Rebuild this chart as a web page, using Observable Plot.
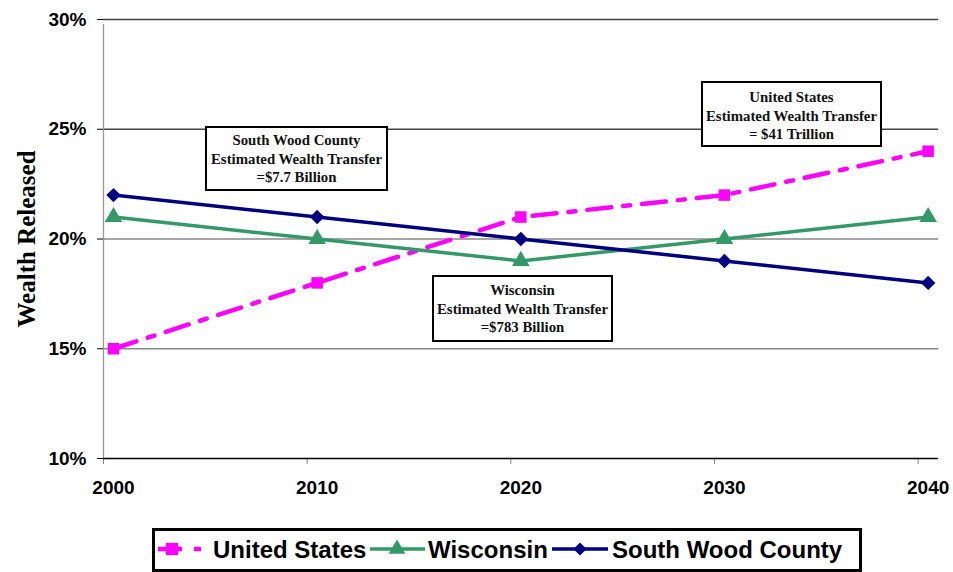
<!DOCTYPE html>
<html>
<head>
<meta charset="utf-8">
<script src="https://cdn.jsdelivr.net/npm/d3@7"></script>
<script src="https://cdn.jsdelivr.net/npm/@observablehq/plot@0.6"></script>
<style>
  html, body { margin: 0; padding: 0; background: #fff; }
  #wrap { position: relative; width: 953px; height: 572px; overflow: hidden; }
  .note {
    position: absolute; box-sizing: border-box; border: 2px solid #000; background: #fff;
    font-family: "Liberation Serif", "Times New Roman", serif; font-weight: bold;
    font-size: 14.8px; line-height: 18.5px; text-align: center; color: #111;
  }
  #legend { position: absolute; left: 152px; top: 528px; }
</style>
</head>
<body>
<div id="wrap"></div>
<script>
const years = [2000, 2010, 2020, 2030, 2040];
const unitedStates = [15, 18, 21, 22, 24];
const wisconsin = [21, 20, 19, 20, 21];
const southWood = [22, 21, 20, 19, 18];
const yTicks = [10, 15, 20, 25, 30];
const seriesNames = ["United States", "Wisconsin", "South Wood County"];
const notes = [
  ["South Wood County", "Estimated Wealth Transfer", "=$7.7 Billion"],
  ["Wisconsin", "Estimated Wealth Transfer", "=$783 Billion"],
  ["United States", "Estimated Wealth Transfer", "= $41 Trillion"]
];

const toRows = vals => years.map((year, i) => ({year, value: vals[i]}));
const us = toRows(unitedStates), wi = toRows(wisconsin), sw = toRows(southWood);

const MAG = "#ff00ff", GRN = "#339966", NAV = "#000080";
const DX = 10;

const chart = Plot.plot({
  width: 953,
  height: 505,
  marginLeft: 103,
  marginRight: 15,
  marginTop: 19,
  marginBottom: 47,
  style: {fontFamily: "'Liberation Sans', Arial, sans-serif", background: "#fff", overflow: "visible"},
  x: {domain: [2000, 2041]},
  y: {domain: [10, 30]},
  marks: [
    Plot.ruleY(yTicks.filter(d => d > 10), {y: d => d, stroke: d => d >= 25 ? "#444" : "#888", strokeWidth: 1.3}),
    Plot.ruleX([2000], {stroke: "#999", strokeWidth: 1.3, y1: 10, y2: 30, insetBottom: -5}),
    Plot.axisY({ticks: yTicks, tickFormat: d => d + "%", tickSize: 6, tickPadding: 11,
      fontSize: 19, fontWeight: "bold", label: null, stroke: "#000", fill: "#000"}),
    Plot.axisX({ticks: years, tickSize: 6, tickFormat: () => "", label: null, stroke: "#888"}),
    Plot.axisX({ticks: years, tickFormat: d => String(d), tickSize: 0, tickPadding: 22, dx: DX,
      fontSize: 19, fontWeight: "bold", label: null, fill: "#000"}),
    Plot.ruleY([10], {stroke: "#000", strokeWidth: 1.5}),
    Plot.text(["Wealth Released"], {frameAnchor: "left", textAnchor: "middle", rotate: -90, dx: -77,
      fontFamily: "'Liberation Serif', 'Times New Roman', serif", fontWeight: "bold", fontSize: 25, fill: "#000"}),
    Plot.line(us, {x: "year", y: "value", dx: DX, stroke: MAG, strokeWidth: 4.5, strokeDasharray: "24,12,7,12"}),
    Plot.dot(us, {x: "year", y: "value", dx: DX, symbol: "square", r: 6.5, fill: MAG, stroke: null}),
    Plot.line(wi, {x: "year", y: "value", dx: DX, stroke: GRN, strokeWidth: 3.5}),
    Plot.dot(wi, {x: "year", y: "value", dx: DX, symbol: "triangle", r: 6.5, fill: GRN, stroke: null}),
    Plot.line(sw, {x: "year", y: "value", dx: DX, stroke: NAV, strokeWidth: 3.5}),
    Plot.dot(sw, {x: "year", y: "value", dx: DX, symbol: "diamond2", r: 6.5, fill: NAV, stroke: null})
  ]
});

const wrap = document.getElementById("wrap");
wrap.appendChild(chart);

// annotation boxes
const boxes = [
  {left: 205, top: 126, w: 183, h: 65, pad: 3},
  {left: 432, top: 275, w: 181, h: 67, pad: 4},
  {left: 701, top: 81, w: 181, h: 66, pad: 5}
];
notes.forEach((lines, i) => {
  const b = boxes[i];
  const div = document.createElement("div");
  div.className = "note";
  Object.assign(div.style, {left: b.left + "px", top: b.top + "px", width: b.w + "px", height: b.h + "px", paddingTop: b.pad + "px"});
  div.innerHTML = lines.map(l => `<div>${l}</div>`).join("");
  wrap.appendChild(div);
});

// legend
const leg = d3.select(wrap).append("svg").attr("id", "legend").attr("width", 710).attr("height", 44)
  .style("font-family", "'Liberation Sans', Arial, sans-serif");
leg.append("rect").attr("x", 1.5).attr("y", 1.5).attr("width", 707).attr("height", 41)
  .attr("fill", "#fff").attr("stroke", "#000").attr("stroke-width", 3);
const items = [
  {name: seriesNames[0], color: MAG, x0: 6, x1: 54, mx: 20, text: 61, dash: "24,12,7,12", sym: d3.symbolSquare, size: 150},
  {name: seriesNames[1], color: GRN, x0: 218, x1: 273, mx: 245, text: 276, dash: null, sym: d3.symbolTriangle, size: 120},
  {name: seriesNames[2], color: NAV, x0: 400, x1: 456, mx: 428, text: 460, dash: null, sym: d3.symbolDiamond2, size: 110}
];
const cy = 21;
items.forEach(it => {
  leg.append("line").attr("x1", it.x0).attr("x2", it.x1).attr("y1", cy).attr("y2", cy)
    .attr("stroke", it.color).attr("stroke-width", it.dash ? 4.5 : 3.5)
    .attr("stroke-dasharray", it.dash);
  leg.append("path").attr("d", d3.symbol(it.sym, it.size)()).attr("transform", `translate(${it.mx},${cy})`)
    .attr("fill", it.color);
  leg.append("text").attr("x", it.text).attr("y", cy + 9).attr("font-size", 24).attr("font-weight", "bold")
    .attr("fill", "#000").text(it.name);
});
</script>
</body>
</html>
